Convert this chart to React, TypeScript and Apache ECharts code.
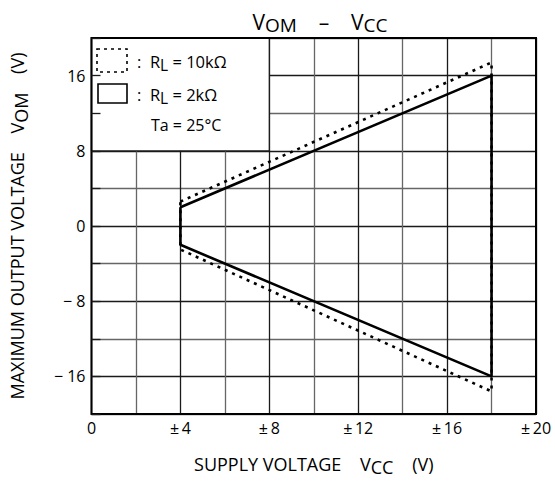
import React, { useEffect, useRef } from "react";
import * as echarts from "echarts";

// Supply voltage Vcc (±V) and max output voltage Vom (V) for each load
const vccRL2k = [4, 18, 18, 4, 4];
const vomRL2k = [2, 16, -16, -2, 2];
const vccRL10k = [4, 18, 18, 4, 4];
const vomRL10k = [2.6, 17.4, -17.6, -2.5, 2.6];

const xLabelTicks = [0, 4, 8, 12, 16, 20];
const yLabelTicks = [-16, -8, 0, 8, 16];

const FONT = "'Open Sans', 'DejaVu Sans', sans-serif";

export default function App() {
  const ref = useRef<HTMLDivElement>(null);
  useEffect(() => {
    if (!ref.current) return;
    const chart = echarts.init(ref.current, undefined, { renderer: "svg" });
    const pair = (xs: number[], ys: number[]) => xs.map((x, i) => [x, ys[i]]);
    const majorMinorX = ["#1a1a1a", "#666"];
    const minorMajorY = ["#666", "#1a1a1a"];
    chart.setOption({
      animation: false,
      backgroundColor: "#fff",
      textStyle: { fontFamily: FONT, color: "#000" },
      title: {
        text: "V{sub|OM}    –    V{sub|CC}",
        left: 315,
        textAlign: "center",
        top: 4,
        textStyle: {
          fontFamily: FONT,
          fontSize: 21,
          fontWeight: "normal",
          color: "#000",
          rich: {
            sub: { fontFamily: FONT, fontSize: 19, color: "#000", padding: [6, 0, 0, 0] },
          },
        },
      },
      grid: {
        left: 83,
        right: 19,
        top: 38,
        bottom: 68,
        show: true,
        z: 10,
        borderColor: "#000",
        borderWidth: 2,
        backgroundColor: "transparent",
      },
      xAxis: {
        type: "value",
        min: 0,
        max: 20,
        interval: 2,
        axisLine: { show: false },
        axisTick: { show: false },
        axisLabel: {
          fontFamily: FONT,
          fontSize: 16,
          color: "#000",
          margin: 6,
          formatter: (v: number) =>
            xLabelTicks.includes(v) ? (v === 0 ? "0" : "±\u2009" + v) : "",
        },
        splitLine: { show: true, lineStyle: { color: majorMinorX, width: 1.3 } },
        name: "SUPPLY VOLTAGE    V{sub|CC}    (V)",
        nameLocation: "middle",
        nameGap: 37,
        nameTextStyle: {
          fontFamily: FONT,
          fontSize: 18,
          color: "#000",
          rich: { sub: { fontFamily: FONT, fontSize: 18, color: "#000", padding: [7, 0, 0, 0] } },
        },
      },
      yAxis: [
        {
          type: "value",
          min: -20,
          max: 20,
          interval: 4,
          axisLine: { show: false },
          axisTick: { show: false },
          axisLabel: {
            fontFamily: FONT,
            fontSize: 16,
            color: "#000",
            margin: 6,
            formatter: (v: number) =>
              yLabelTicks.includes(v) ? (v < 0 ? "− " + -v : String(v)) : "",
          },
          splitLine: { show: true, lineStyle: { color: minorMajorY, width: 1.3 } },
          name: "MAXIMUM OUTPUT VOLTAGE    V{sub|OM}    (V)",
          nameLocation: "middle",
          nameRotate: 90,
          nameGap: 62,
          nameTextStyle: {
            fontFamily: FONT,
            fontSize: 18,
            color: "#000",
            rich: { sub: { fontFamily: FONT, fontSize: 18, color: "#000", padding: [7, 0, 0, 0] } },
          },
        },
        {
          type: "value",
          min: -20,
          max: 20,
          interval: 4,
          position: "left",
          z: 10,
          axisLine: { show: false },
          axisTick: { show: true, inside: true, length: 9, lineStyle: { color: "#1a1a1a", width: 1.3 } },
          axisLabel: { show: false },
          splitLine: { show: false },
        },
      ],
      series: [
        {
          name: "RL = 2kΩ",
          type: "line",
          data: pair(vccRL2k, vomRL2k),
          showSymbol: false,
          symbol: "none",
          z: 3,
          lineStyle: { color: "#000", width: 2.6, type: "solid" },
          markArea: {
            silent: true,
            itemStyle: { color: "#fff", borderColor: "#1a1a1a", borderWidth: 1.3 },
            data: [[{ coord: [0, 20] }, { coord: [8, 8] }]],
          },
        },
        {
          name: "RL = 10kΩ",
          type: "line",
          data: pair(vccRL10k, vomRL10k),
          showSymbol: false,
          symbol: "none",
          z: 4,
          lineStyle: { color: "#000", width: 2.6, type: [3, 5], cap: "butt" },
        },
      ],
      graphic: [
        {
          type: "rect",
          z: 20,
          shape: { x: 97, y: 49, width: 30, height: 23 },
          style: { fill: "#fff", stroke: "#000", lineWidth: 1.6, lineDash: [3, 4] },
        },
        {
          type: "text",
          z: 20,
          x: 137,
          y: 61,
          style: {
            text: ":  R{sub|L} = 10kΩ",
            fontFamily: FONT,
            fontSize: 16.5,
            fill: "#000",
            verticalAlign: "middle",
            rich: { sub: { fontFamily: FONT, fontSize: 15.5, fill: "#000", padding: [8, 0, 0, 0] } },
          },
        },
        {
          type: "rect",
          z: 20,
          shape: { x: 98, y: 84, width: 29, height: 19 },
          style: { fill: "#fff", stroke: "#000", lineWidth: 1.6 },
        },
        {
          type: "text",
          z: 20,
          x: 137,
          y: 94,
          style: {
            text: ":  R{sub|L} = 2kΩ",
            fontFamily: FONT,
            fontSize: 16.5,
            fill: "#000",
            verticalAlign: "middle",
            rich: { sub: { fontFamily: FONT, fontSize: 15.5, fill: "#000", padding: [8, 0, 0, 0] } },
          },
        },
        {
          type: "text",
          z: 20,
          x: 151,
          y: 125,
          style: {
            text: "Ta = 25°C",
            fontFamily: FONT,
            fontSize: 16,
            fill: "#000",
            verticalAlign: "middle",
          },
        },
      ],
    });
    return () => chart.dispose();
  }, []);
  return (
    <div
      ref={ref}
      style={{ position: "fixed", left: 0, top: 0, width: 555, height: 482 }}
    />
  );
}
